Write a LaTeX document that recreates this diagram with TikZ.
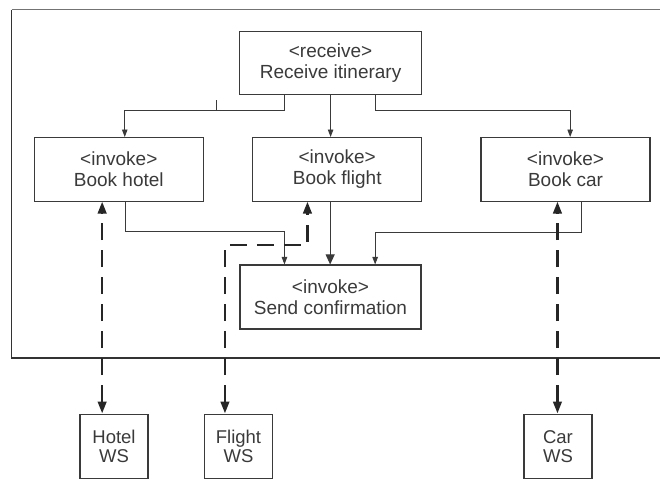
\documentclass[tikz,border=0pt]{standalone}
\usepackage{fontspec}
\setmainfont{Liberation Sans}
\usetikzlibrary{arrows.meta}
\definecolor{ink}{HTML}{3A3A3A}
\begin{document}
\begin{tikzpicture}[x=1pt,y=-1pt,
  activity/.style={draw=ink,line width=1.1pt,text=ink,
    font=\fontsize{19}{21}\selectfont,align=center,
    minimum width=169pt,minimum height=63.5pt,inner sep=0pt},
  service/.style={activity,minimum width=68pt,minimum height=64.5pt,
    font=\fontsize{18.5}{19}\selectfont},
  flow/.style={draw=ink,line width=0.9pt,-{Triangle[length=7.5pt,width=5.5pt]}},
  flowmain/.style={flow,-{Triangle[length=10pt,width=9pt]}},
  link/.style={draw=black!85,line width=2.6pt,dash pattern=on 17pt off 10pt,
    {Triangle[length=12pt,width=8.5pt]}-{Triangle[length=12pt,width=8.5pt]}},
]
\useasboundingbox (0,0) rectangle (660,479);

% process frame (open to the right)
\draw[black!55,line width=1.4pt] (672,9.5) -- (11.5,9.5);
\draw[black!80,line width=1.4pt] (11.5,9.5) -- (11.5,358) -- (672,358);

% activities
\node[activity,minimum width=182pt,minimum height=62.5pt] (recv) at (330.6,63)
  {\textless receive\textgreater\\Receive itinerary};
\node[activity] (hotel)  at (118.8,169.3) {\textless invoke\textgreater\\Book hotel};
\node[activity] (flight) at (337.2,169.3) {\textless invoke\textgreater\\Book flight};
\node[activity] (car)    at (565.5,169.3) {\textless invoke\textgreater\\Book car};
\node[activity,minimum width=181pt,minimum height=64pt] (send) at (330.5,297)
  {\textless invoke\textgreater\\Send confirmation};

% partner services
\node[service] (hws) at (114,446.3) {Hotel\\WS};
\node[service] (fws) at (238.5,446.3) {Flight\\WS};
\node[service] (cws) at (558,446.3) {Car\\WS};

% fan-out from the receive activity
\coordinate (busY) at (0,110.7);
\coordinate (rA) at ([xshift=45.5pt]recv.south west);
\coordinate (rC) at ([xshift=136.5pt]recv.south west);
\coordinate (hIn) at ([xshift=91pt]hotel.north west);
\coordinate (cIn) at ([xshift=89.7pt]car.north west);
\coordinate (stub) at (216.7,100);
\draw[flow] (rA) -- (rA |- busY) -- (hIn |- busY) -- (hIn);
\draw[ink,line width=0.9pt] (stub) -- (stub |- busY);
\draw[flow] (recv.south) -- (recv.south |- flight.north);
\draw[flow] (rC) -- (rC |- busY) -- (cIn |- busY) -- (cIn);

% fan-in to the confirmation
\coordinate (joinY) at (0,231);
\coordinate (joinY2) at (0,232);
\coordinate (hOut) at ([xshift=91.5pt]hotel.south west);
\coordinate (fOut) at ([xshift=78pt]flight.south west);
\coordinate (cOut) at ([xshift=100.7pt]car.south west);
\coordinate (sA) at ([xshift=45pt]send.north west);
\coordinate (sC) at ([xshift=135.7pt]send.north west);
\draw[flow] (hOut) -- (hOut |- joinY) -- (sA |- joinY) -- (sA);
\draw[flowmain] (fOut) -- (fOut |- send.north);
\draw[flow] (cOut) -- (cOut |- joinY2) -- (sC |- joinY2) -- (sC);

% service interactions
\coordinate (hD) at ([xshift=22.7pt]hws.north west);
\coordinate (fD) at ([xshift=21pt]fws.north west);
\coordinate (cD) at ([xshift=34pt]cws.north west);
\coordinate (kneeY) at (0,245);
\coordinate (fUp) at ([xshift=55.3pt]flight.south west);
\draw[link] (hD) -- (hD |- hotel.south);
\draw[link] (fD) -- (fD |- kneeY) -- (fUp |- kneeY) -- (fUp);
\draw[link] (cD) -- (cD |- car.south);
\end{tikzpicture}
\end{document}
